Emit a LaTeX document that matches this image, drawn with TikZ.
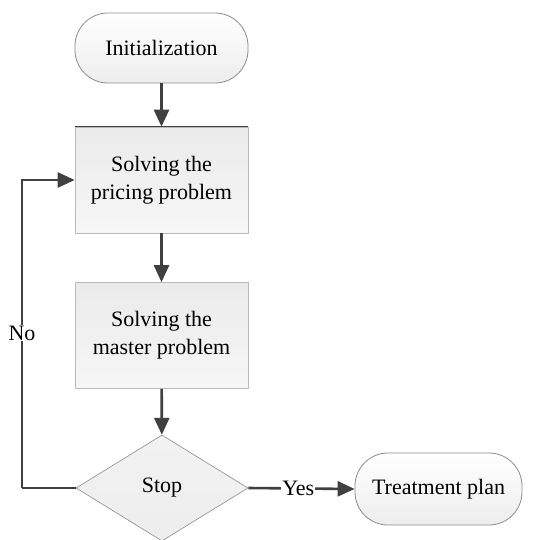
\documentclass[tikz,border=0pt]{standalone}
\usepackage{fontspec}
\setmainfont{Liberation Serif}
\usetikzlibrary{shapes.geometric,arrows.meta}
\definecolor{lineC}{HTML}{404040}
\definecolor{edgeC}{HTML}{8C8C8C}
\tikzset{
  every node/.style={font=\fontsize{22}{28}\selectfont, text=black},
  term/.style={draw=edgeC, line width=0.8pt, rounded corners=33pt, top color=white, bottom color=gray!14,
    minimum width=173pt, minimum height=70pt, inner sep=0pt, align=center},
  procbox/.style={draw=edgeC!60, line width=0.6pt, top color=gray!16, bottom color=gray!7,
    minimum width=173pt, minimum height=106pt, inner sep=0pt, align=center},
  decide/.style={diamond, draw=edgeC, line width=0.6pt, top color=gray!10, bottom color=gray!14,
    minimum width=172pt, minimum height=106pt, aspect=1.62, inner sep=0pt},
  flow/.style={draw=lineC, line width=2.6pt, -{Triangle[length=17pt,width=15pt]}},
  plain/.style={draw=lineC, line width=2.6pt},
  lbl/.style={fill=white, inner sep=1pt}
}
\begin{document}
\begin{tikzpicture}[x=1pt,y=1pt]
\useasboundingbox (0,0) rectangle (533,-540);
\node[term] (init) at (161.5,-48) {Initialization};
\node[procbox] (pricing) at (161.5,-180) {Solving the\\pricing problem};
\draw[lineC, line width=1.2pt] (pricing.north west) -- (pricing.north east);
\node[procbox] (master) at (161.5,-335.5) {Solving the\\master problem};
\node[decide] (stop) at (162,-488) {Stop};
\node[term, minimum width=167pt, minimum height=72pt] (treat) at (438.5,-489) {Treatment plan};
\coordinate (lc) at (22,-488);
\draw[flow] (init) -- (pricing);
\draw[flow] (pricing) -- (master);
\draw[flow] (master) -- (stop);
\draw[flow] (stop.east) -- node[lbl, pos=0.47] (yes) {Yes} (treat.west);
\draw[plain] (stop.west) -- (lc);
\draw[flow] (lc) |- (pricing.west);
\node[lbl] (no) at (22,-333) {No};
\end{tikzpicture}
\end{document}
